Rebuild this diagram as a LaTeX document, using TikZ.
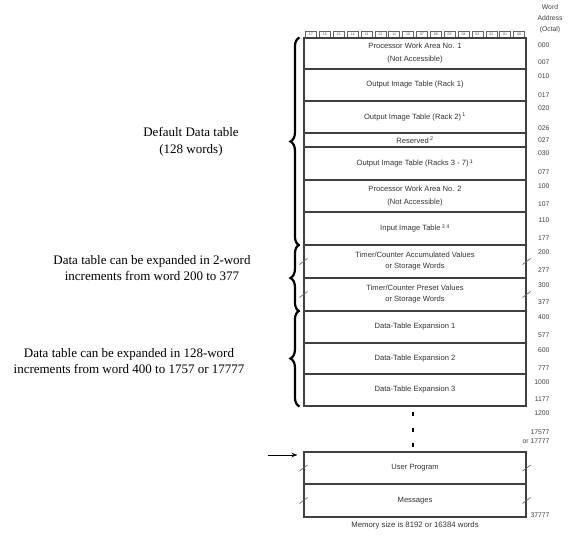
\documentclass[tikz,border=0pt]{standalone}
\usepackage{fontspec}
\setmainfont{Liberation Serif}
\setsansfont{Liberation Sans}
\usetikzlibrary{arrows.meta,calc,decorations.pathreplacing,positioning}

\begin{document}
\begin{tikzpicture}[x=1pt, y=-1pt,
    area/.style={draw=black!75, line width=1.1pt, minimum width=222pt, inner sep=0pt,
      font=\sffamily\fontsize{7.6}{11}\selectfont, text=black!80, align=center},
    bit/.style={draw=black!60, line width=.5pt, minimum width=11pt, minimum height=6.5pt,
      inner sep=0pt, font=\sffamily\fontsize{3.6}{4}\selectfont, text=black!70},
    addr/.style={anchor=east, font=\sffamily\fontsize{6.8}{8}\selectfont, text=black!75},
    note/.style={align=center, font=\fontsize{13}{16.5}\selectfont},
    bigbrace/.style={decorate, decoration={brace, amplitude=9pt}, line width=2.2pt},
    brk/.style={black!60, line width=.7pt}]
  \useasboundingbox (0,0) rectangle (568,536);

  % bit numbers
  \foreach \b [count=\i from 0] in {17,16,15,14,13,12,11,10,07,06,05,04,03,02,01,00}
    \node[bit] (bit\i) at ({304+13.875*(\i+0.5)},34) {\b};

  % memory areas
  \node[area, minimum height=31pt] (pwa1) at (415,53.5) {Processor Work Area No. 1\\[2pt](Not Accessible)};
  \node[area, minimum height=32pt] (out1) at (415,85) {Output Image Table (Rack 1)};
  \node[area, minimum height=32pt] (out2) at (415,117) {Output Image Table (Rack 2)\,\textsuperscript{1}};
  \node[area, minimum height=14pt] (rsv) at (415,140) {Reserved\,\textsuperscript{2}};
  \node[area, minimum height=33pt] (out3) at (415,163.5) {Output Image Table (Racks 3 - 7)\,\textsuperscript{1}};
  \node[area, minimum height=32pt] (pwa2) at (415,196) {Processor Work Area No. 2\\[2pt](Not Accessible)};
  \node[area, minimum height=33pt] (inp) at (415,228.5) {Input Image Table\,\textsuperscript{3 4}};
  \node[area, minimum height=33pt] (tacc) at (415,261.5) {Timer/Counter Accumulated Values\\or Storage Words};
  \node[area, minimum height=33pt] (tpre) at (415,294.5) {Timer/Counter Preset Values\\or Storage Words};
  \node[area, minimum height=32pt] (exp1) at (415,327) {Data-Table Expansion 1};
  \node[area, minimum height=31pt] (exp2) at (415,358.5) {Data-Table Expansion 2};
  \node[area, minimum height=32pt] (exp3) at (415,390) {Data-Table Expansion 3};
  \node[area, minimum height=32pt] (user) at (415,468) {User Program};
  \node[area, minimum height=33pt] (msg) at (415,500.5) {Messages};

  \foreach \yy in {414,430,445}
    \fill (412.2,\yy-2) rectangle (413.8,\yy+2);

  % break marks
  \foreach \r in {tacc,tpre,user,msg} {
    \draw[brk] ([shift={(-4pt,-3pt)}]\r.west) -- ([shift={(4pt,3pt)}]\r.west);
    \draw[brk] ([shift={(-4pt,-3pt)}]\r.east) -- ([shift={(4pt,3pt)}]\r.east);
  }

  % word addresses
  \node[align=center, font=\sffamily\fontsize{6.8}{11}\selectfont, text=black!75] (hdr) at (550,19) {Word\\Address\\(Octal)};
  \foreach \a/\yy [count=\k] in {000/45,007/62,010/76,017/95,020/108,026/128,027/140,030/153,
      077/172,100/186,107/204,110/220,177/238,200/252,277/270,300/285,377/302,400/317,
      577/335,600/350,777/368,1000/382,1177/399,1200/413,17577/432,or 17777/441,37777/515}
    \node[addr] (a\k) at (553,\yy) {\a};

  \node[font=\sffamily\fontsize{7.8}{9}\selectfont, text=black!80] (size) at (415,525) {Memory size is 8192 or 16384 words};

  % braces and notes
  \draw[bigbrace] ([xshift=-4pt]inp.south west) -- ([xshift=-4pt]pwa1.north west);
  \draw[bigbrace] ([xshift=-4pt]tpre.south west) -- ([xshift=-4pt]tacc.north west);
  \draw[bigbrace] ([xshift=-4pt]exp3.south west) -- ([xshift=-4pt]exp1.north west);

  \node[note] (dflt) at (191,142) {Default Data table\\(128 words)};
  \node[note] (two) at (152,268) {Data table can be expanded in 2-word\\increments from word 200 to 377};
  \node[note] (big) at (129,361) {Data table can be expanded in 128-word\\increments from word 400 to 1757 or 17777};

  \coordinate (feed) at (268,455);
  \draw[-{Stealth[length=6pt]}, line width=.8pt] (feed) -- ([xshift=-6pt]user.north west |- feed);
\end{tikzpicture}
\end{document}
